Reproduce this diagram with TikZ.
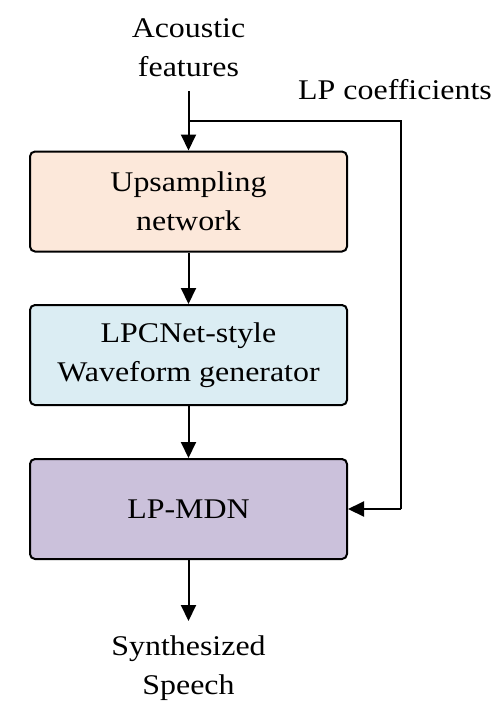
\documentclass[tikz,border=0pt]{standalone}
\usepackage{fontspec}
\setmainfont{Liberation Serif}[FakeStretch=1.12]
\usetikzlibrary{arrows.meta}
\definecolor{peach}{HTML}{FCE8DA}
\definecolor{lblue}{HTML}{DBEDF3}
\definecolor{lav}{HTML}{CBC1DB}
\begin{document}
\begin{tikzpicture}[x=1pt,y=-1pt,
  blk/.style={draw=black,line width=2pt,rounded corners=5pt,minimum width=317pt,minimum height=100pt,align=center,inner sep=0pt},
  lbl/.style={align=center,inner sep=0pt},
  arr/.style={line width=2pt,-{Triangle[width=15pt,length=16pt]}},
  ln/.style={line width=2pt}]
\useasboundingbox (0,0) rectangle (498,702);
\fontsize{28.5}{39}\selectfont
\node[blk,fill=peach] (up) at (188.5,201.5) {Upsampling\\network};
\node[blk,fill=lblue] (wg) at (188.5,355) {LPCNet-style\\Waveform generator};
\node[blk,fill=lav] (mdn) at (188.5,509) {LP-MDN};
\node[lbl] (ac) at (188.5,48) {Acoustic\\features};
\node[lbl] (lp) at (395,90) {LP coefficients};
\node[lbl] (sp) at (188.5,668) {Synthesized\\Speech};
\coordinate (top) at (188.5,91);
\coordinate (j) at (188.5,121);
\coordinate (r1) at (401,121);
\coordinate (r2) at (401,509);
\draw[arr] (top) -- (up.north);
\draw[ln] (j) -- (r1) -- (r2);
\draw[arr] (r2) -- (mdn.east);
\draw[arr] (up.south) -- (wg.north);
\draw[arr] (wg.south) -- (mdn.north);
\coordinate (out) at (188.5,621);
\draw[arr] (mdn.south) -- (out);
\end{tikzpicture}
\end{document}
